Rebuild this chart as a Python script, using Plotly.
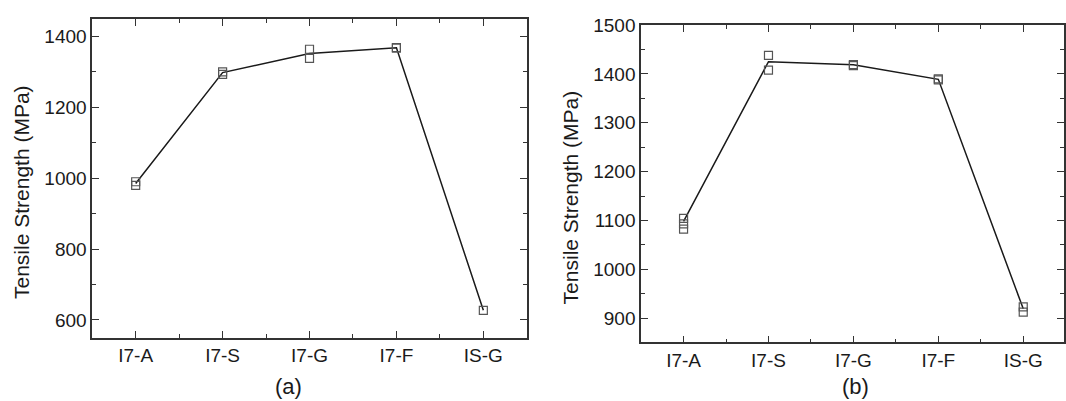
import plotly.graph_objects as go

categories = ["I7-A", "I7-S", "I7-G", "I7-F", "IS-G"]
cat_pos = [0, 1, 2, 3, 4]

# Panel (a): individual measurements and averaged line
a_pts_x = [0, 0, 1, 1, 2, 2, 3, 3, 4]
a_pts_y = [990, 980, 1300, 1293, 1364, 1338, 1369, 1367, 627]
a_line_y = [985, 1298, 1352, 1368, 627]

# Panel (b)
b_pts_x = [0, 0, 0, 1, 1, 2, 2, 3, 3, 4, 4]
b_pts_y = [1104, 1093, 1082, 1438, 1408, 1419, 1417, 1390, 1388, 923, 912]
b_line_y = [1098, 1425, 1419, 1389, 919]

a_yticks = [600, 800, 1000, 1200, 1400]
b_yticks = [900, 1000, 1100, 1200, 1300, 1400, 1500]

FONT = "Arial, Liberation Sans, sans-serif"
TXT = "#1a1a1a"
AX = "#333333"

fig = go.Figure()

def add_panel(xs, ys, line_y, xa, ya):
    fig.add_trace(go.Scatter(x=cat_pos, y=line_y, mode="lines",
                             line=dict(color="#1a1a1a", width=1.5),
                             xaxis=xa, yaxis=ya, showlegend=False, hoverinfo="skip"))
    fig.add_trace(go.Scatter(x=xs, y=ys, mode="markers",
                             marker=dict(symbol="square-open", size=8,
                                         color="#555555", line=dict(width=1.2)),
                             xaxis=xa, yaxis=ya, showlegend=False))

add_panel(a_pts_x, a_pts_y, a_line_y, "x", "y")
add_panel(b_pts_x, b_pts_y, b_line_y, "x2", "y2")

W, H = 1066, 401

def xaxis(d0, d1, anchor, rng):
    return dict(domain=[d0 / W, d1 / W], anchor=anchor, range=rng,
                tickvals=cat_pos, ticktext=categories,
                showline=True, linecolor=AX, linewidth=1.6, mirror="ticks",
                ticks="inside", ticklen=7, tickwidth=1.4, tickcolor=AX,
                minor=dict(tickvals=[0.5, 1.5, 2.5, 3.5], ticks="inside",
                           ticklen=4, tickwidth=1.4, tickcolor=AX),
                showgrid=False, zeroline=False,
                tickfont=dict(family=FONT, size=19, color=TXT))

def yaxis(top, bot, anchor, rng, tv, minor_dtick):
    return dict(domain=[1 - bot / H, 1 - top / H], anchor=anchor, range=rng,
                tickvals=tv,
                showline=True, linecolor=AX, linewidth=1.6, mirror="ticks",
                ticks="inside", ticklen=7, tickwidth=1.4, tickcolor=AX,
                minor=dict(dtick=minor_dtick, ticks="inside",
                           ticklen=4, tickwidth=1.4, tickcolor=AX),
                showgrid=False, zeroline=False,
                tickfont=dict(family=FONT, size=19, color=TXT))

def ann(text, x, y, size, angle=0):
    return dict(text=text, x=x / W, y=1 - y / H, xref="paper", yref="paper",
                xanchor="center", yanchor="middle", showarrow=False,
                textangle=angle, font=dict(family=FONT, size=size, color=TXT))

fig.update_layout(
    width=W, height=H,
    margin=dict(l=0, r=0, t=0, b=0),
    paper_bgcolor="white", plot_bgcolor="white",
    xaxis=xaxis(92.3, 527.3, "y", [-0.5, 4.5]),
    yaxis=yaxis(9, 336, "x", [550, 1450], a_yticks, 100),
    xaxis2=xaxis(641.7, 1065, "y2", [-0.5, 4.48]),
    yaxis2=yaxis(15.5, 341, "x2", [850, 1500], b_yticks, 50),
    annotations=[
        ann("Tensile Strength (MPa)", 21.7, 187, 21, -90),
        ann("Tensile Strength (MPa)", 571, 191.7, 21, -90),
        ann("(a)", 289, 386, 22),
        ann("(b)", 856, 386, 22),
    ],
)

fig.write_html("out.html")
